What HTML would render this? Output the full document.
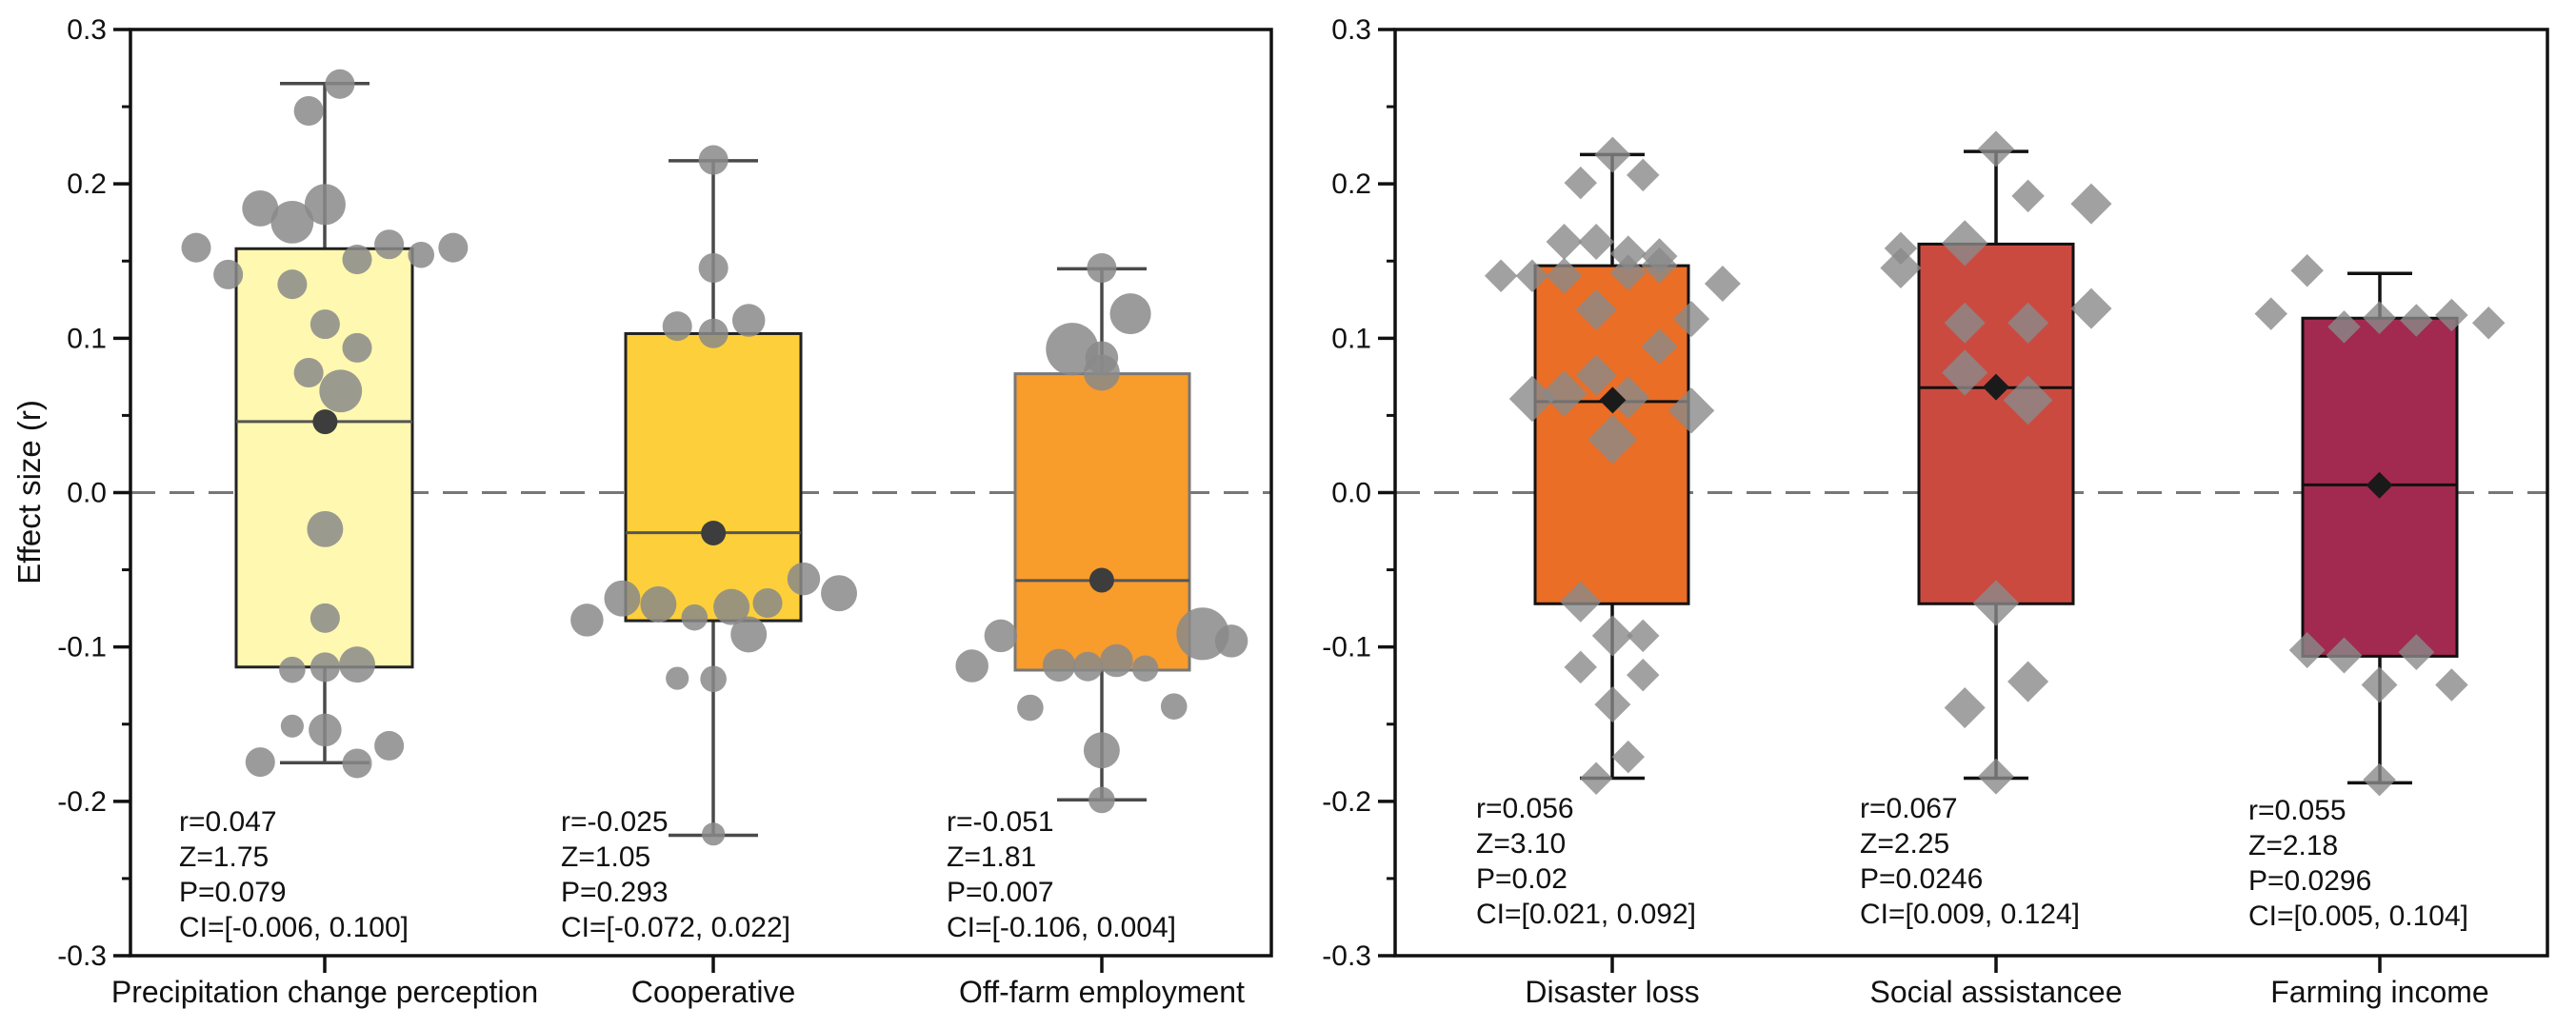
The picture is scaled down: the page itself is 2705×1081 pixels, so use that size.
<!DOCTYPE html>
<html><head><meta charset="utf-8"><style>
html,body{margin:0;padding:0;background:#fff;}
svg{display:block;font-family:"Liberation Sans",Arial,sans-serif;}
</style></head><body>
<svg id="s" width="2705" height="1081" viewBox="0 0 2705 1081" xmlns="http://www.w3.org/2000/svg">
<rect width="2705" height="1081" fill="#fff"/>
<g id="boxes"></g>
<g id="pts"></g>
<g id="axes"></g>
</svg>
<script>
var NS="http://www.w3.org/2000/svg";
function el(p,t,a,txt){var e=document.createElementNS(NS,t);for(var k in a)e.setAttribute(k,a[k]);if(txt!==undefined)e.textContent=txt;document.getElementById(p).appendChild(e);return e;}
function Y(v){return 517.5-v*1621.7;}
el("boxes","line",{x1:137,x2:1335,y1:Y(0),y2:Y(0),stroke:"#777","stroke-width":3,"stroke-dasharray":"26,15"});
el("boxes","line",{x1:1465,x2:2675,y1:Y(0),y2:Y(0),stroke:"#777","stroke-width":3,"stroke-dasharray":"26,15"});
var boxes=[
 {c:341,l:248,r:433,q3:0.158,q1:-0.113,m:0.046,wh:0.265,wl:-0.175,f:"#fff8b0",s:"#222",w:"#4a4a4a",cap:47},
 {c:749,l:657,r:841,q3:0.103,q1:-0.083,m:-0.026,wh:0.215,wl:-0.222,f:"#fdd03b",s:"#222",w:"#4a4a4a",cap:47},
 {c:1157,l:1066,r:1249,q3:0.077,q1:-0.115,m:-0.057,wh:0.145,wl:-0.199,f:"#f89c2c",s:"#777",w:"#4a4a4a",cap:47},
 {c:1693,l:1612,r:1773,q3:0.147,q1:-0.072,m:0.059,wh:0.219,wl:-0.185,f:"#ea6e25",s:"#111",w:"#111",cap:34},
 {c:2096,l:2015,r:2177,q3:0.161,q1:-0.072,m:0.068,wh:0.221,wl:-0.185,f:"#cb4a40",s:"#111",w:"#111",cap:34},
 {c:2499,l:2418,r:2580,q3:0.113,q1:-0.106,m:0.005,wh:0.142,wl:-0.188,f:"#a2294f",s:"#111",w:"#111",cap:34}];
boxes.forEach(function(b){
 el("boxes","line",{x1:b.c,x2:b.c,y1:Y(b.wh),y2:Y(b.wl),stroke:b.w,"stroke-width":3.5});
 el("boxes","line",{x1:b.c-b.cap,x2:b.c+b.cap,y1:Y(b.wh),y2:Y(b.wh),stroke:b.w,"stroke-width":3.5});
 el("boxes","line",{x1:b.c-b.cap,x2:b.c+b.cap,y1:Y(b.wl),y2:Y(b.wl),stroke:b.w,"stroke-width":3.5});
 el("boxes","rect",{x:b.l,y:Y(b.q3),width:b.r-b.l,height:Y(b.q1)-Y(b.q3),fill:b.f,stroke:b.s,"stroke-width":3});
 el("boxes","line",{x1:b.l,x2:b.r,y1:Y(b.m),y2:Y(b.m),stroke:b.w==="#111"?"#111":"#555","stroke-width":3});
});
function cx(x){return x/1.16;} function cy(y){return y/1.4545+1;}
var L=[[414,127,18],[376,168,18],[317,317,22],[356,338,26],[396,311,25],[239,377,18],[278,418,18],[474,372,18],[513,388,16],[552,377,18],[435,395,18],[356,433,18],[396,494,18],[435,530,18],[376,568,18],[415,596,26],[396,807,22],[396,943,18],[356,1022,16],[396,1018,18],[435,1014,22],[356,1108,14],[396,1114,20],[474,1138,18],[317,1163,18],[435,1165,18],
[869,243,18],[869,408,18],[825,497,18],[869,508,18],[912,488,20],[715,946,20],[758,913,22],[802,922,22],[846,942,16],[891,926,22],[935,920,18],[979,883,20],[1022,905,22],[912,968,22],[825,1035,14],[869,1036,16],[869,1273,14],
[1342,408,18],[1377,478,25],[1306,532,32],[1342,545,20],[1342,568,22],[1219,970,20],[1465,967,32],[1500,978,20],[1184,1016,20],[1290,1015,20],[1325,1017,18],[1360,1008,20],[1395,1020,16],[1255,1080,16],[1430,1078,16],[1342,1145,22],[1342,1221,16]];
L.forEach(function(p){el("pts","circle",{cx:cx(p[0]),cy:cy(p[1]),r:p[2]/1.16,fill:"#8a8a8a","fill-opacity":0.85});});
[[396,643],[869,813],[1342,885]].forEach(function(p){el("pts","circle",{cx:cx(p[0]),cy:cy(p[1]),r:13,fill:"#3d3d3d"});});
var R=[[396,235,22],[357,278,20],[433,266,20],[337,368,22],[376,368,22],[415,386,22],[453,390,22],[260,420,20],[298,420,20],[337,420,22],[415,415,22],[453,404,22],[530,432,22],[376,472,25],[492,486,22],[453,528,22],[298,608,28],[337,600,28],[376,572,25],[415,606,26],[492,626,28],[396,670,30],[357,918,25],[396,970,25],[433,970,20],[357,1018,20],[433,1030,20],[396,1075,22],[415,1155,20],[376,1188,20],
[863,226,22],[902,298,20],[979,310,25],[747,378,20],[825,370,28],[747,408,25],[979,470,25],[825,492,25],[902,492,25],[825,568,28],[902,610,30],[863,920,28],[902,1040,25],[825,1080,25],[863,1185,22],
[1242,412,20],[1198,478,20],[1287,498,20],[1330,484,20],[1375,488,20],[1418,480,20],[1463,492,20],[1242,992,22],[1287,1000,22],[1375,995,22],[1330,1045,22],[1418,1045,20],[1330,1190,20]];
function dia(g,x,y,h,f,o){el(g,"polygon",{points:(x)+","+(y-h)+" "+(x+h)+","+y+" "+x+","+(y+h)+" "+(x-h)+","+y,fill:f,"fill-opacity":o});}
R.forEach(function(p){dia("pts",1352+cx(p[0]),cy(p[1]),p[2]/1.16,"#8a8a8a",0.8);});
[[396,610],[863,590],[1330,740]].forEach(function(p){dia("pts",1352+cx(p[0]),cy(p[1]),14,"#1a1a1a",1);});
function frame(x0,x1){
 el("axes","rect",{x:x0,y:Y(0.3),width:x1-x0,height:Y(-0.3)-Y(0.3),fill:"none",stroke:"#111","stroke-width":3.5});
 for(var i=-6;i<=6;i++){var v=i*0.05,y=Y(v);
  if(i%2===0){el("axes","line",{x1:x0-18,x2:x0,y1:y,y2:y,stroke:"#111","stroke-width":3.5});
   el("axes","text",{x:x0-25,y:y+10,"font-size":30,"text-anchor":"end",fill:"#111"},(v===0?"0.0":v.toFixed(1)));}
  else el("axes","line",{x1:x0-9,x2:x0,y1:y,y2:y,stroke:"#111","stroke-width":3});}
}
frame(137,1335);frame(1465,2675);
var cats=[[341,"Precipitation change perception"],[749,"Cooperative"],[1157,"Off-farm employment"],[1693,"Disaster loss"],[2096,"Social assistancee"],[2499,"Farming income"]];
cats.forEach(function(c){el("axes","line",{x1:c[0],x2:c[0],y1:Y(-0.3),y2:Y(-0.3)+18,stroke:"#111","stroke-width":3.5});
 el("axes","text",{x:c[0],y:1053,"font-size":32,"text-anchor":"middle",fill:"#111"},c[1]);});
el("axes","text",{x:0,y:0,"font-size":33,"text-anchor":"middle",fill:"#111",transform:"translate(42,517) rotate(-90)"},"Effect size (r)");
var ann=[[188,873,["r=0.047","Z=1.75","P=0.079","CI=[-0.006, 0.100]"]],[589,873,["r=-0.025","Z=1.05","P=0.293","CI=[-0.072, 0.022]"]],[994,873,["r=-0.051","Z=1.81","P=0.007","CI=[-0.106, 0.004]"]],
[1550,859,["r=0.056","Z=3.10","P=0.02","CI=[0.021, 0.092]"]],[1953,859,["r=0.067","Z=2.25","P=0.0246","CI=[0.009, 0.124]"]],[2361,861,["r=0.055","Z=2.18","P=0.0296","CI=[0.005, 0.104]"]]];
ann.forEach(function(a){a[2].forEach(function(s,i){el("axes","text",{x:a[0],y:a[1]+i*37,"font-size":30,fill:"#111"},s);});});
</script>
</body></html>
